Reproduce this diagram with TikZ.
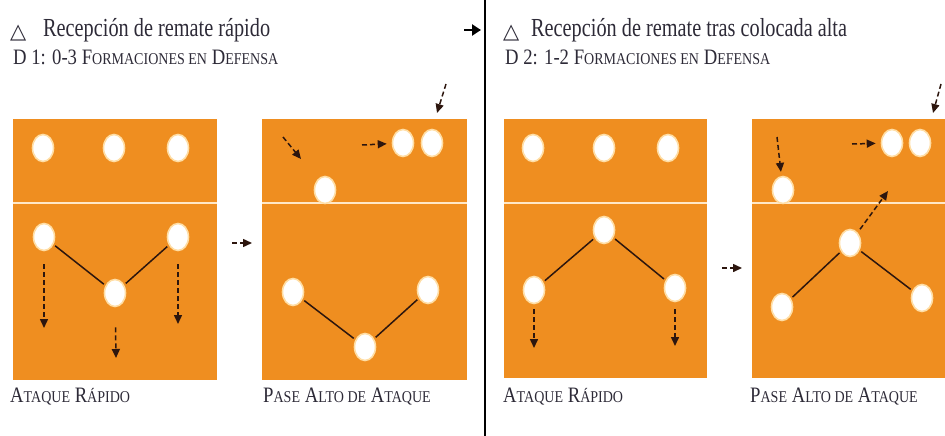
\documentclass[tikz,border=0pt]{standalone}
\usepackage{fontspec}
\setmainfont[FakeStretch=0.85]{Liberation Serif}
\newfontfamily\titlef[FakeStretch=0.78]{Liberation Serif}
\newfontfamily\symf{DejaVu Sans}
\usetikzlibrary{arrows.meta,shapes.geometric}
\definecolor{courtor}{RGB}{239,142,32}
\definecolor{netc}{RGB}{255,232,200}
\definecolor{rimc}{RGB}{255,222,165}
\definecolor{inkc}{RGB}{45,42,55}
\definecolor{arrc}{RGB}{45,22,14}
\newcommand\smc[1]{{\fontsize{16.5}{18}\selectfont #1}}
\tikzset{
  court/.style={fill=courtor, draw=none},
  netline/.style={draw=netc, line width=2.6pt},
  player/.style={ellipse, fill=white, draw=rimc, line width=1.6pt, minimum width=21pt, minimum height=27pt, inner sep=0pt},
  link/.style={draw=arrc, line width=1.5pt, shorten <=2pt, shorten >=2pt},
  move/.style={draw=arrc, line width=1.5pt, dash pattern=on 5pt off 3pt, -{Triangle[length=9pt,width=8pt]}},
  titletext/.style={anchor=base west, inner sep=0pt, text=inkc, font=\titlef\fontsize{26}{28}\selectfont},
  subtext/.style={anchor=base west, inner sep=0pt, text=inkc, font=\fontsize{22}{24}\selectfont},
  tri/.style={anchor=base west, inner sep=0pt, text=inkc, font=\symf\fontsize{21}{22}\selectfont}
}
\begin{document}
\begin{tikzpicture}[x=1pt,y=-1pt]
\useasboundingbox (0,0) rectangle (945,436);
% headings
\node[tri] (t1) at (10,39) {△};
\node[titletext] (h1) at (43,37) {Recepción de remate rápido};
\node[subtext] (s1) at (13,65) {D 1: 0-3 F\smc{ORMACIONES EN} D\smc{EFENSA}};
\node[tri] (t2) at (503,39) {△};
\node[titletext] (h2) at (531,37) {Recepción de remate tras colocada alta};
\node[subtext] (s2) at (505,65) {D 2: 1-2 F\smc{ORMACIONES EN} D\smc{EFENSA}};
% top arrow and divider
\coordinate (ta) at (464,30);
\coordinate (tb) at (481,30);
\draw[line width=2.8pt, -{Triangle[length=9pt,width=11pt]}] (ta) -- (tb);
\coordinate (dvt) at (485,0);
\coordinate (dvb) at (485,436);
\draw[line width=1.1pt] (dvt) -- (dvb);
% courts
\fill[court] (13,119) rectangle (217,380);
\draw[netline] (13,203) -- (217,203);
\fill[court] (262,119) rectangle (467,380);
\draw[netline] (262,203) -- (467,203);
\fill[court] (504,119) rectangle (707,378);
\draw[netline] (504,203) -- (707,203);
\fill[court] (752,119) rectangle (945,378);
\draw[netline] (752,203) -- (945,203);
% bottom labels
\node[subtext] (l1) at (10,402) {A\smc{TAQUE} R\smc{ÁPIDO}};
\node[subtext] (l2) at (263,402) {P\smc{ASE} A\smc{LTO DE} A\smc{TAQUE}};
\node[subtext] (l3) at (503,402) {A\smc{TAQUE} R\smc{ÁPIDO}};
\node[subtext] (l4) at (750,402) {P\smc{ASE} A\smc{LTO DE} A\smc{TAQUE}};
% ---- court 1
\node[player] (a1) at (43,148) {};
\node[player] (a2) at (114,148) {};
\node[player] (a3) at (178,148) {};
\node[player] (a4) at (44,237) {};
\node[player] (a5) at (178,237) {};
\node[player] (a6) at (115,293) {};
\draw[link] (a4) -- (a6);
\draw[link] (a6) -- (a5);
\coordinate (a4e) at (44,328);
\coordinate (a5e) at (178,324);
\coordinate (a6e) at (116,358);
\draw[move, shorten <=13pt] (a4) -- (a4e);
\draw[move, shorten <=13pt] (a5) -- (a5e);
\draw[move, shorten <=20pt] (a6) -- (a6e);
% arrow court1 -> court2
\coordinate (m1a) at (232,243);
\coordinate (m1b) at (252,243);
\draw[move] (m1a) -- (m1b);
% ---- court 2
\node[player] (b1) at (325,190) {};
\node[player] (b2) at (403,143) {};
\node[player] (b3) at (432,143) {};
\node[player] (b4) at (293,292) {};
\node[player] (b5) at (428,290) {};
\node[player] (b6) at (365,347) {};
\draw[link] (b4) -- (b6);
\draw[link] (b6) -- (b5);
\coordinate (b1s) at (283,137);
\coordinate (b1e) at (301,159);
\draw[move] (b1s) -- (b1e);
\coordinate (b2s) at (362,145);
\draw[move, shorten >=5pt] (b2s) -- (b2);
\coordinate (b3s) at (446,84);
\coordinate (b3e) at (437,113);
\draw[move] (b3s) -- (b3e);
% ---- court 3
\node[player] (c1) at (533,148) {};
\node[player] (c2) at (604,148) {};
\node[player] (c3) at (668,148) {};
\node[player] (c4) at (604,230) {};
\node[player] (c5) at (534,290) {};
\node[player] (c6) at (675,288) {};
\draw[link] (c5) -- (c4);
\draw[link] (c4) -- (c6);
\coordinate (c5e) at (534,348);
\coordinate (c6e) at (675,346);
\draw[move, shorten <=5pt] (c5) -- (c5e);
\draw[move, shorten <=7pt] (c6) -- (c6e);
% arrow court3 -> court4
\coordinate (m2a) at (722,268);
\coordinate (m2b) at (742,268);
\draw[move] (m2a) -- (m2b);
% ---- court 4
\node[player] (d1) at (783,190) {};
\node[player] (d2) at (892,143) {};
\node[player] (d3) at (920,143) {};
\node[player] (d4) at (850,243) {};
\node[player] (d5) at (782,307) {};
\node[player] (d6) at (922,298) {};
\draw[link] (d5) -- (d4);
\draw[link] (d4) -- (d6);
\coordinate (d4e) at (888,191);
\draw[move, shorten <=4pt] (d4) -- (d4e);
\coordinate (d1s) at (777,137);
\draw[move, shorten >=4pt] (d1s) -- (d1);
\coordinate (d2s) at (852,144);
\draw[move, shorten >=5pt] (d2s) -- (d2);
\coordinate (d3s) at (941,84);
\coordinate (d3e) at (933,113);
\draw[move] (d3s) -- (d3e);
\end{tikzpicture}
\end{document}
